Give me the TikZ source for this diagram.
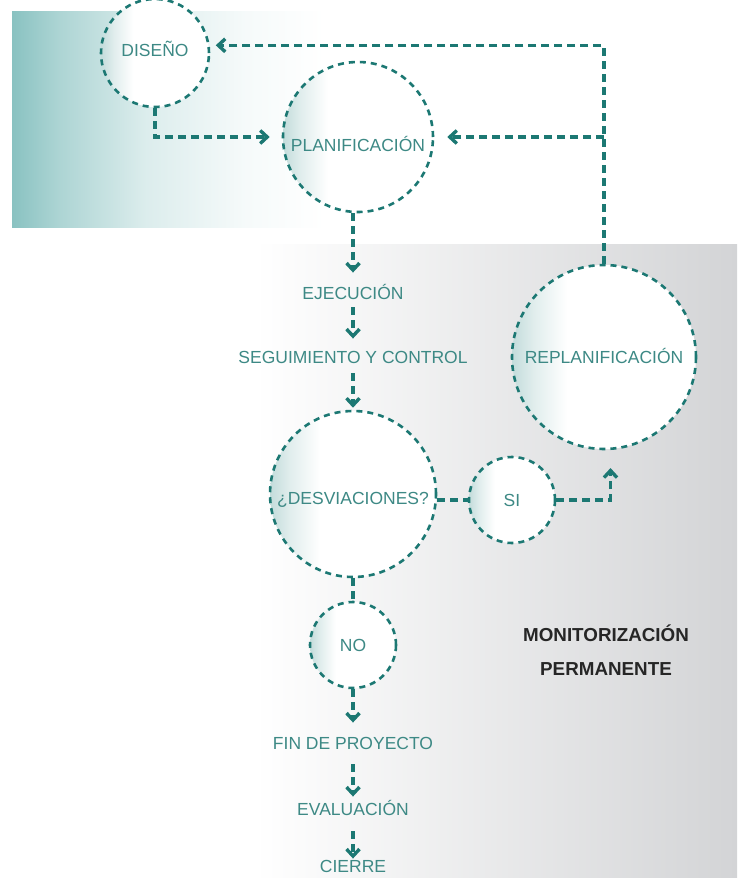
\documentclass[tikz,border=0pt]{standalone}
\usepackage{fontspec}
\setmainfont{Liberation Sans}
\usetikzlibrary{arrows.meta}
\definecolor{linecol}{HTML}{1C7873}
\definecolor{txtcol}{HTML}{3D8985}
\definecolor{panelteal}{HTML}{89C2C1}
\definecolor{panelgray}{HTML}{D3D4D6}
\definecolor{circtint}{HTML}{C3DCDB}
\definecolor{darktxt}{HTML}{262626}
\colorlet{tealA}{panelteal!70!white}
\colorlet{tealB}{panelteal!30!white}
\colorlet{tealC}{panelteal!8!white}
\colorlet{tintA}{circtint!50!white}
\pgfdeclarehorizontalshading{panelfade}{100bp}{color(0bp)=(panelteal); color(25bp)=(panelteal); color(32bp)=(tealA); color(45bp)=(tealB); color(60bp)=(tealC); color(72bp)=(white); color(100bp)=(white)}
\pgfdeclarehorizontalshading{ringfade}{100bp}{color(0bp)=(circtint); color(25bp)=(circtint); color(31bp)=(tintA); color(40bp)=(white); color(100bp)=(white)}

\begin{document}
\begin{tikzpicture}[
  x=1pt, y=-1pt,
  ring/.style={circle, draw=linecol, line width=2.6pt, dash pattern=on 6pt off 5pt, inner sep=0pt, shade, shading=ringfade, text=txtcol, font=\fontsize{17.5}{21}\selectfont, text height=12.5pt, text depth=0pt},
  phase/.style={inner sep=0pt, text=txtcol, font=\fontsize{17.5}{21}\selectfont, text height=12.5pt, text depth=0pt},
  link/.style={draw=linecol, line width=3.4pt, dash pattern=on 8pt off 5pt},
  arrow/.style={link, -{Straight Barb[length=7pt, width=13pt]}}
]
\useasboundingbox (0,0) rectangle (737,878);
\clip (0,0) rectangle (737,878);

% Background panels
\fill[white] (0,0) rectangle (737,878);
\shade[shading=panelfade] (12,11) rectangle (345,227);
\shade[left color=white, right color=panelgray] (255,244) rectangle (737,878);

% Circles
\node[ring, minimum size=108pt, text depth=6pt] (diseno) at (155,53) {DISEÑO};
\node[ring, minimum size=150pt, text height=28.5pt] (planif) at (358,137) {PLANIFICACIÓN};
\node[ring, minimum size=184pt] (replanif) at (604,357) {REPLANIFICACIÓN};
\node[ring, minimum size=166pt, text height=20.5pt] (desv) at (353,494) {¿DESVIACIONES?};
\node[ring, minimum size=86pt] (si) at (512,500) {SI};
\node[ring, minimum size=86pt] (no) at (353,645) {NO};

% Phases (centre column)
\node[phase] (ejec) at (353,293) {EJECUCIÓN};
\node[phase] (seguim) at (353,357) {SEGUIMIENTO Y CONTROL};
\node[phase] (fin) at (353,743) {FIN DE PROYECTO};
\node[phase] (eval) at (353,809) {EVALUACIÓN};
\node[phase] (cierre) at (353,866) {CIERRE};

\node[align=center, text=darktxt, font=\bfseries\fontsize{18.8}{34}\selectfont] (monit) at (606,650) {MONITORIZACIÓN\\PERMANENTE};

% Feedback loop
\draw[arrow, shorten >=6pt] (replanif.north) |- (diseno.8);
\coordinate (fork) at (replanif.north |- planif.east);
\draw[arrow, shorten >=13pt] (fork) -- (planif.east);
\draw[arrow, shorten >=12pt] (diseno.south) |- (planif.west);

% Main flow
\draw[arrow, shorten >=14pt] (planif.south -| ejec.north) -- (ejec.north);
\draw[arrow, shorten <=8pt, shorten >=12pt] (ejec.south) -- (seguim.north);
\draw[arrow, shorten <=10pt, shorten >=2pt] (seguim.south) -- (desv.north);
\draw[link] (desv.south) -- (no.north);
\draw[link] (desv.east |- si.west) -- (si.west);
\draw[arrow, shorten >=18pt] (si.east) -| (replanif.-86);
\draw[arrow, shorten >=14pt] (no.south) -- (fin.north);
\draw[arrow, shorten <=15pt, shorten >=6pt] (fin.south) -- (eval.north);
\draw[arrow, shorten <=16pt, shorten >=1pt] (eval.south) -- (cierre.north);

\end{tikzpicture}
\end{document}
